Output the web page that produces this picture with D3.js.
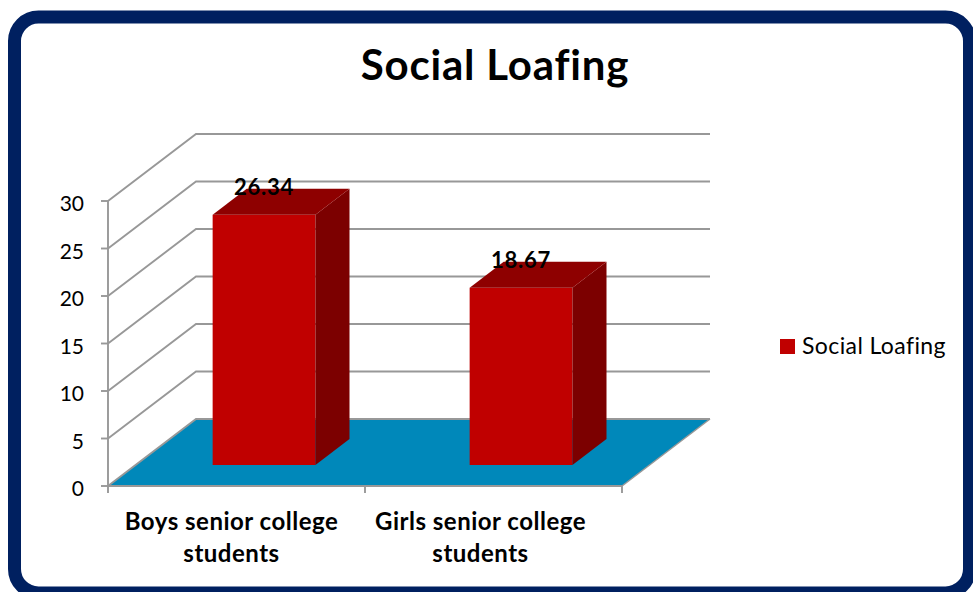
<!DOCTYPE html>
<html><head><meta charset="utf-8">
<script src="https://cdn.jsdelivr.net/npm/d3@7"></script>
<style>body{margin:0;background:#fff}svg{display:block}</style>
</head><body>
<svg id="c" width="973" height="592"></svg>
<script>
const categories = [["Boys senior college","students"],["Girls senior college","students"]];
const values = [26.34, 18.67];
const yTicks = [0,5,10,15,20,25,30];
const seriesName = "Social Loafing";
const title = "Social Loafing";

const svg = d3.select("#c");
const font = "Lato, 'Open Sans', sans-serif";

// frame
svg.append("rect").attr("x",14.5).attr("y",17).attr("width",955).attr("height",576)
  .attr("rx",24).attr("fill","#fff").attr("stroke","#002060").attr("stroke-width",13);

const x = d3.scaleBand().domain(d3.range(categories.length)).range([108,622]).paddingInner(0).paddingOuter(0);
const y = d3.scaleLinear().domain([0,30]).range([486,201]);
const DX = 88, DY = -67;
const P = (px, v, d) => [px + DX*d, y(v) + DY*d];
const line = d3.line();
const grid = "#989898", gw = 1.9;

// floor
svg.append("path").attr("d", line([P(108,0,0),P(622,0,0),P(622,0,1),P(108,0,1)])+"Z")
  .attr("fill","#0088ba");
svg.append("path").attr("d", line([P(622,0,0),P(622,0,1)])).attr("stroke",grid).attr("stroke-width",1.5).attr("fill","none");

// gridlines: side wall diagonals + back wall horizontals
yTicks.forEach(t=>{
  svg.append("path").attr("d", line([P(108,t,0),P(108,t,1),P(622,t,1)]))
    .attr("fill","none").attr("stroke",grid).attr("stroke-width",gw);
});

// y axis
svg.append("path").attr("d", line([[108,y(30)],[108,y(0)]])).attr("stroke",grid).attr("stroke-width",gw);
yTicks.forEach(t=>{
  svg.append("path").attr("d", line([[101,y(t)],[108,y(t)]])).attr("stroke",grid).attr("stroke-width",gw);
  svg.append("text").attr("x",84).attr("y",y(t)+10).attr("text-anchor","end")
    .attr("font-family",font).attr("font-size",21).attr("fill","#000").text(t);
});

// x axis
svg.append("path").attr("d", line([[108,y(0)],[622,y(0)]])).attr("stroke",grid).attr("stroke-width",gw);
d3.range(categories.length+1).forEach(i=>{
  const xx = i<categories.length ? x(i) : x(categories.length-1)+x.bandwidth();
  svg.append("path").attr("d", line([[xx,y(0)],[xx,y(0)+7]])).attr("stroke",grid).attr("stroke-width",gw);
});

// bars
const bw = x.bandwidth()*0.4;
const d0 = 0.313, d1 = 0.70;
const labelShift = [-5, -13];
values.forEach((v,i)=>{
  const cx = x(i)+x.bandwidth()/2;
  const xl = cx - bw/2, xr = cx + bw/2;
  const g = svg.append("g");
  g.append("path").attr("d", line([P(xl,0,d0),P(xr,0,d0),P(xr,v,d0),P(xl,v,d0)])+"Z").attr("fill","#c00000");
  g.append("path").attr("d", line([P(xr,0,d0),P(xr,0,d1),P(xr,v,d1),P(xr,v,d0)])+"Z").attr("fill","#7c0000");
  g.append("path").attr("d", line([P(xl,v,d0),P(xr,v,d0),P(xr,v,d1),P(xl,v,d1)])+"Z").attr("fill","#8e0000");
  const tp = P(cx,v,d0);
  svg.append("text").attr("x",tp[0]).attr("y",tp[1]-20).attr("text-anchor","middle")
    .attr("font-family",font).attr("font-weight","bold").attr("font-size",22).attr("letter-spacing","0.8px")
    .attr("fill","#000").text(v.toFixed(2));
  const lx = cx + labelShift[i];
  categories[i].forEach((s,k)=>{
    svg.append("text").attr("x",lx).attr("y",530+k*32).attr("text-anchor","middle")
      .attr("font-family",font).attr("font-weight","bold").attr("font-size",24).attr("letter-spacing","0.5px")
      .attr("fill","#000").text(s);
  });
});

// title
svg.append("text").attr("x",495).attr("y",80).attr("text-anchor","middle")
  .attr("font-family",font).attr("font-weight","bold").attr("font-size",42).attr("letter-spacing","0.8px")
  .attr("fill","#000").text(title);

// legend
svg.append("rect").attr("x",780).attr("y",339).attr("width",15).attr("height",15).attr("fill","#c00000");
svg.append("text").attr("x",802).attr("y",354).attr("font-family",font).attr("font-size",23).attr("letter-spacing","0.4px")
  .attr("fill","#000").text(seriesName);
</script>
</body></html>
